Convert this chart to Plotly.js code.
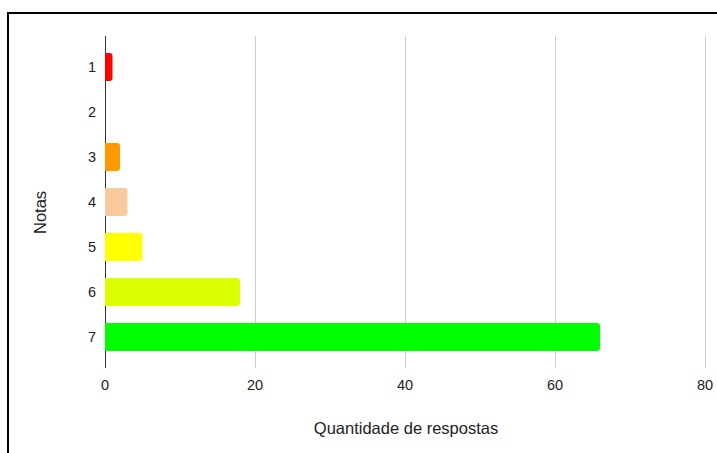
<!DOCTYPE html>
<html>
<head>
<meta charset="utf-8">
<script src="https://cdn.plot.ly/plotly-3.0.1.min.js"></script>
<style>
html,body{margin:0;padding:0;background:#fff;overflow:hidden;}
#chart{width:717px;height:453px;}
</style>
</head>
<body>
<div id="chart"></div>
<script>
var categories = ["1", "2", "3", "4", "5", "6", "7"];
var counts = [1, 0, 2, 3, 5, 18, 66];
var barColors = ["#ff0000", "#ff9900", "#ff9900", "#f9cb9c", "#ffff00", "#dcff00", "#00ff00"];
var xTicks = [0, 20, 40, 60, 80];
var xTitle = "Quantidade de respostas";
var yTitle = "Notas";

var trace = {
  type: "bar",
  orientation: "h",
  y: categories.map(function(c, i){ return i; }),
  x: counts,
  marker: {color: barColors, line: {width: 0}},
  width: 0.62,
  hoverinfo: "x+y"
};

var layout = {
  width: 717,
  height: 453,
  margin: {l: 105, r: 10, t: 36, b: 85},
  paper_bgcolor: "#ffffff",
  plot_bgcolor: "#ffffff",
  font: {family: "Liberation Sans, Arial, sans-serif", size: 14.5, color: "#222"},
  barcornerradius: 3,
  showlegend: false,
  xaxis: {
    range: [0, 602 / 7.5],
    tickvals: xTicks,
    ticktext: xTicks.map(String),
    showgrid: true,
    gridcolor: "#cccccc",
    gridwidth: 1,
    zeroline: true,
    zerolinecolor: "#333333",
    zerolinewidth: 1,
    showline: false,
    ticks: "",
    ticklabelstandoff: 6,
    title: {text: xTitle, font: {size: 16.5, color: "#222"}, standoff: 30}
  },
  yaxis: {
    range: [6.69, -0.69],
    tickvals: categories.map(function(c, i){ return i; }),
    ticktext: categories,
    showgrid: false,
    zeroline: false,
    showline: false,
    ticks: "",
    ticklabelstandoff: 8
  },
  annotations: [{
    text: yTitle,
    xref: "paper", yref: "paper",
    x: (40 - 105) / 602, y: (368 - 213) / 332,
    xanchor: "center", yanchor: "middle",
    textangle: -90,
    showarrow: false,
    font: {size: 16.5, color: "#222"}
  }],
  shapes: [{
    type: "rect",
    xref: "paper", yref: "paper",
    x0: (8 - 105) / 602, x1: 2,
    y0: -1, y1: (368 - 13) / 332,
    line: {color: "#000000", width: 2},
    fillcolor: "rgba(0,0,0,0)",
    layer: "below"
  }]
};

Plotly.newPlot("chart", [trace], layout, {displayModeBar: false, staticPlot: true});
</script>
</body>
</html>
